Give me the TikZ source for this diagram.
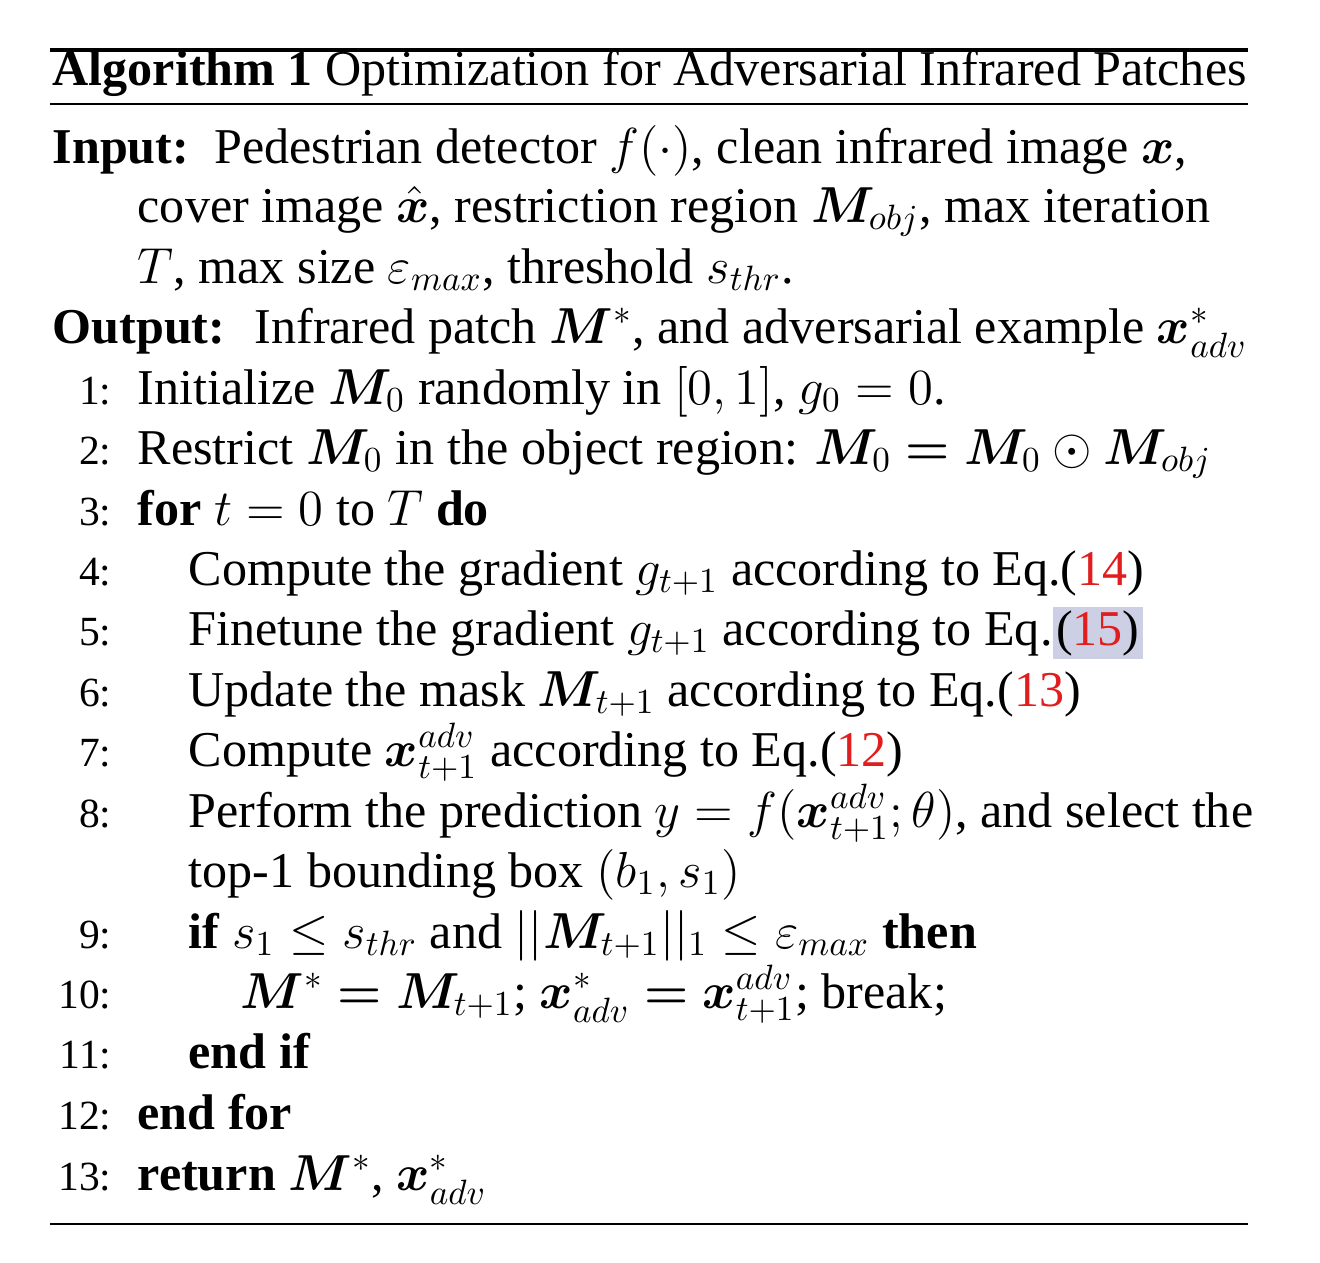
\documentclass[tikz,border=0pt]{standalone}
\usepackage{amsmath,amssymb,bm}
\usepackage{fontspec}
\setmainfont{Liberation Serif}
\definecolor{refred}{RGB}{225,30,30}
\definecolor{hl}{RGB}{205,208,228}
\newcommand{\rn}[1]{\textcolor{refred}{#1}}
\begin{document}
\begin{tikzpicture}[x=0.01cm,y=-0.01cm,
  txt/.style={inner sep=0,anchor=base west,font=\fontsize{14.25}{17.07}\selectfont},
  num/.style={inner sep=0,anchor=base east,font=\fontsize{11.8}{14}\selectfont}]
\useasboundingbox (0,0) rectangle (1320,1262);
\draw[line width=0.9pt] (50,50) coordinate (r1a) -- (1248,50) coordinate (r1b);
\draw[line width=0.6pt] (50,104) coordinate (r2a) -- (1248,104) coordinate (r2b);
\draw[line width=0.6pt] (50,1224) coordinate (r3a) -- (1248,1224) coordinate (r3b);
\node[txt] (title) at (52,85) {\textbf{Algorithm 1} Optimization for Adversarial Infrared Patches};
\node[txt,text width=11.96cm,align=justify] (inp1) at (52,163) {\parfillskip=0pt\textbf{Input:}\ \ Pedestrian detector $f(\cdot)$, clean infrared image $\bm{x}$,};
\node[txt,text width=11.11cm,align=justify] (inp2) at (137,222) {\parfillskip=0pt cover image $\hat{\bm{x}}$, restriction region $\bm{M}_{obj}$, max iteration};
\node[txt] (inp3) at (137,283) {$T$, max size $\varepsilon_{max}$, threshold $s_{thr}$.};
\node[txt] (out) at (52,343) {\textbf{Output:} \ Infrared patch $\bm{M}^{*}$, and adversarial example $\bm{x}^{*}_{adv}$};
\node[num] (n1) at (112,404) {1:};
\node[txt] (l1) at (137,404) {Initialize $\bm{M}_0$ randomly in $[0,1]$, $g_0=0$.};
\node[num] (n2) at (112,464) {2:};
\node[txt] (l2) at (137,464) {Restrict $\bm{M}_0$ in the object region: $\bm{M}_0 \bm{=} \bm{M}_0\odot\bm{M}_{obj}$};
\node[num] (n3) at (112,525) {3:};
\node[txt] (l3) at (137,525) {\textbf{for} $t=0$ to $T$ \textbf{do}};
\node[num] (n4) at (112,585) {4:};
\node[txt] (l4) at (188,585) {Compute the gradient $g_{t+1}$ according to Eq.(\rn{14})};
\node[num] (n5) at (112,645) {5:};
\node[txt] (l5) at (188,645) {Finetune the gradient $g_{t+1}$ according to Eq.{\setlength{\fboxsep}{1pt}\colorbox{hl}{(\rn{15})}}};
\node[num] (n6) at (112,706) {6:};
\node[txt] (l6) at (188,706) {Update the mask $\bm{M}_{t+1}$ according to Eq.(\rn{13})};
\node[num] (n7) at (112,766) {7:};
\node[txt] (l7) at (188,766) {Compute $\bm{x}^{adv}_{t+1}$ according to Eq.(\rn{12})};
\node[num] (n8) at (112,827) {8:};
\node[txt] (l8) at (188,827) {Perform the prediction $y=f(\bm{x}^{adv}_{t+1};\theta)$, and select the};
\node[txt] (l8b) at (188,887) {top-1 bounding box $(b_1,s_1)$};
\node[num] (n9) at (112,948) {9:};
\node[txt] (l9) at (188,948) {\textbf{if} $s_1\le s_{thr}$ and $||\bm{M}_{t+1}||_1\le\varepsilon_{max}$ \textbf{then}};
\node[num] (n10) at (112,1008) {10:};
\node[txt] (l10) at (240,1008) {$\bm{M}^{*}\bm{=}\bm{M}_{t+1}$; $\bm{x}^{*}_{adv}\bm{=}\bm{x}^{adv}_{t+1}$; break;};
\node[num] (n11) at (112,1068) {11:};
\node[txt] (l11) at (188,1068) {\textbf{end if}};
\node[num] (n12) at (112,1129) {12:};
\node[txt] (l12) at (137,1129) {\textbf{end for}};
\node[num] (n13) at (112,1190) {13:};
\node[txt] (l13) at (137,1190) {\textbf{return} $\bm{M}^{*}$, $\bm{x}^{*}_{adv}$};
\end{tikzpicture}
\end{document}
